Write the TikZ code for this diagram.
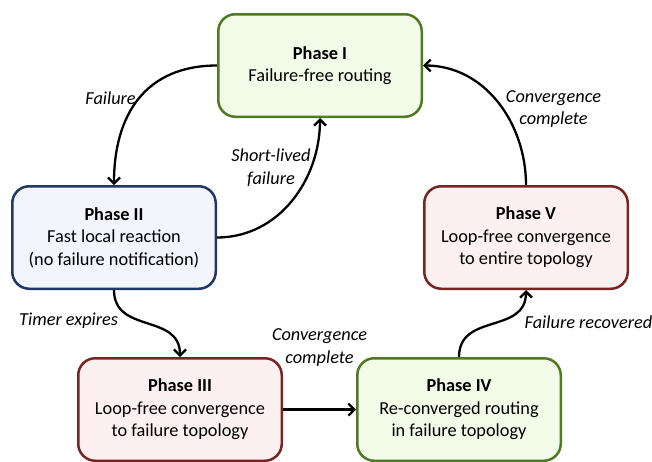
\documentclass[tikz,border=0pt]{standalone}
\usepackage{fontspec}
\setmainfont{Carlito}
\usetikzlibrary{positioning,arrows.meta}
\definecolor{greenborder}{RGB}{79,122,36}
\definecolor{greenfill}{RGB}{241,251,231}
\definecolor{blueborder}{RGB}{32,56,100}
\definecolor{bluefill}{RGB}{242,245,252}
\definecolor{redborder}{RGB}{120,36,32}
\definecolor{redfill}{RGB}{252,240,240}

\begin{document}
\begin{tikzpicture}[
    phase/.style={draw, rounded corners=17pt, line width=2.5pt, minimum width=203.5pt,
      minimum height=102.5pt, align=center, font=\fontsize{18.3}{22.5}\selectfont},
    greenphase/.style={phase, draw=greenborder, fill=greenfill},
    bluephase/.style={phase, draw=blueborder, fill=bluefill},
    redphase/.style={phase, draw=redborder, fill=redfill},
    trans/.style={line width=2.3pt, -{Straight Barb[length=6pt,width=12pt]}},
    lbl/.style={font=\fontsize{18.3}{22.5}\selectfont\itshape, align=center, inner sep=2pt}
  ]
      \useasboundingbox (0,0) rectangle (652pt,-461pt);
      \node [greenphase] (phaseI) at (320pt,-65.5pt) {\textbf{Phase I}\\Failure-free routing};
      \node [bluephase, below left=67pt and 0pt of phaseI] (phaseII)
        {\textbf{Phase II}\\Fast local reaction\\(no failure notification)};
      \node [redphase, below right=67pt and 0pt of phaseI] (phaseV)
        {\textbf{Phase V}\\Loop-free convergence\\to entire topology};
      \node [redphase, below=67pt of phaseII, xshift=66pt] (phaseIII)
        {\textbf{Phase III}\\Loop-free convergence\\to failure topology};
      \node [greenphase, right=73pt of phaseIII] (phaseIV)
        {\textbf{Phase IV}\\Re-converged routing\\in failure topology};

      \draw [trans] (phaseI.west) to [out=180, in=90, looseness=1.15]
        node [lbl, pos=0.5, left=0pt] (failure) {Failure} (phaseII.north);
      \draw [trans] (phaseII.east) to [out=0, in=-90]
        node [lbl, pos=0.72, left=-3pt] (shortlived) {Short-lived\\failure} (phaseI.south);
      \draw [trans] (phaseII.south) to [out=-90, in=90, looseness=1.2]
        node [lbl, pos=0.42, left=18pt] (timer) {Timer expires} (phaseIII.north);
      \draw [trans] (phaseIII) --
        node [lbl, above=40pt] (convIII) {Convergence\\complete} (phaseIV);
      \draw [trans] (phaseIV.north) to [out=90, in=-90, looseness=1.2]
        node [lbl, pos=0.55, right=24pt] (recovered) {Failure recovered} (phaseV.south);
      \draw [trans] (phaseV.north) to [out=90, in=0]
        node [lbl, pos=0.45, right=0pt] (convV) {Convergence\\complete} (phaseI.east);
\end{tikzpicture}
\end{document}
